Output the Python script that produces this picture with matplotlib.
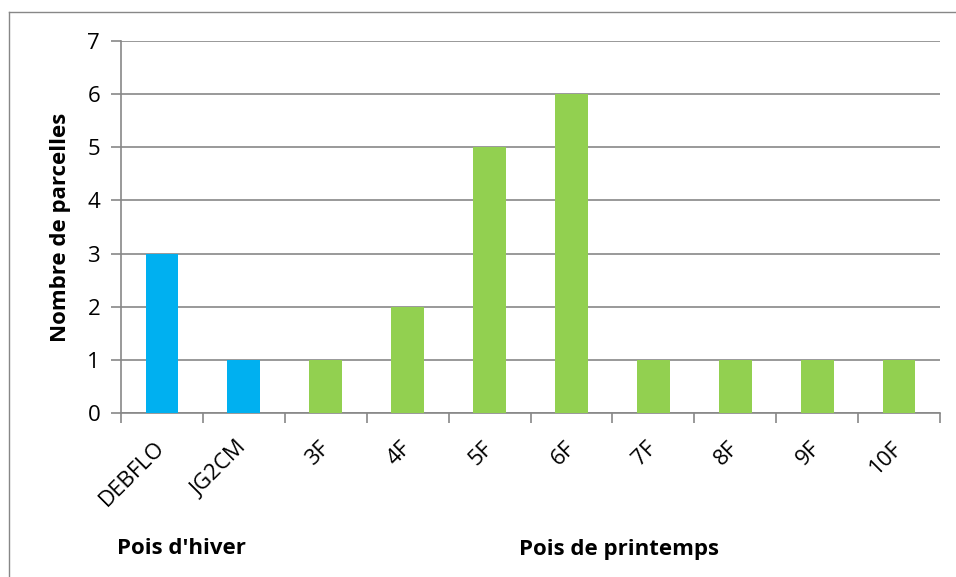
import matplotlib.pyplot as plt
from matplotlib.lines import Line2D

# Données
varietes = ['DEBFLO', 'JG2CM', '3F', '4F', '5F', '6F', '7F', '8F', '9F', '10F']
parcelles = [3, 1, 1, 2, 5, 6, 1, 1, 1, 1]
groupes = ['hiver', 'hiver', 'printemps', 'printemps', 'printemps',
           'printemps', 'printemps', 'printemps', 'printemps', 'printemps']
couleurs = {'hiver': '#00B0F0', 'printemps': '#92D050'}

plt.rcParams['font.family'] = ['Open Sans', 'DejaVu Sans']
gris = '#878787'

fig = plt.figure(figsize=(9.56, 5.77), dpi=100)
ax = fig.add_axes([121 / 956, 1 - 413 / 577, 819 / 956, 372 / 577])

x = range(len(varietes))
ax.bar(x, parcelles, width=0.4, color=[couleurs[g] for g in groupes], zorder=3)

ax.set_xlim(-0.5, len(varietes) - 0.5)
ax.set_ylim(0, 7)
ax.set_yticks(range(8))
ax.yaxis.grid(True, color=gris, linewidth=1.2, zorder=0)
ax.set_xticks([i - 0.5 for i in range(len(varietes) + 1)])
ax.set_xticklabels([])
ax.set_xticks(list(x), minor=True)
ax.set_xticklabels(varietes, minor=True, rotation=45, ha='right', va='center',
                   rotation_mode='anchor', fontsize=16)
ax.tick_params(axis='x', which='major', length=7, color=gris, width=1.2)
ax.tick_params(axis='x', which='minor', length=0, pad=23)
ax.tick_params(axis='y', length=7, color=gris, width=1.2, labelsize=16, pad=8)

for s in ['top', 'right']:
    ax.spines[s].set_visible(False)
for s in ['left', 'bottom']:
    ax.spines[s].set_color(gris)
    ax.spines[s].set_linewidth(1.2)

ax.set_ylabel('Nombre de parcelles', fontsize=16, fontweight='bold')
ax.yaxis.set_label_coords(-50 / 819, 0.5)

fig.text(117 / 956, 1 - 548 / 577, "Pois d'hiver", fontsize=16, fontweight='bold', va='center')
fig.text(619 / 956, 1 - 550 / 577, 'Pois de printemps', fontsize=16, fontweight='bold',
         va='center', ha='center')

# cadre du graphique (bords gauche et haut visibles)
fig.add_artist(Line2D([8.5 / 956, 8.5 / 956], [0, 1 - 11.5 / 577], color=gris, lw=1))
fig.add_artist(Line2D([8.5 / 956, 1], [1 - 11.5 / 577, 1 - 11.5 / 577], color=gris, lw=1))

fig.savefig('out.png', dpi=100)
